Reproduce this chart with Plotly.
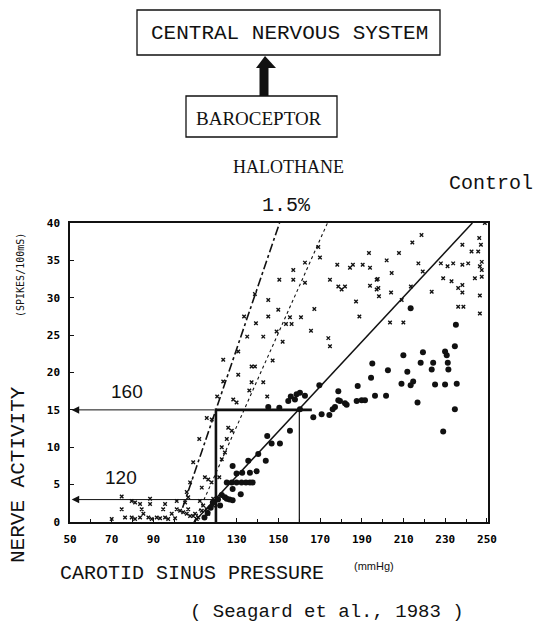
import plotly.graph_objects as go

# ---- data -------------------------------------------------------------
# Halothane 1.5 % : nerve activity vs carotid sinus pressure
halo_x = [193.4, 178.2, 184.3, 185.7, 190.4, 193.9, 174.7, 178.7, 180.3, 181.9, 193.9, 197.1, 197.1,
          187.2, 188.8, 173.9, 174.7, 169.9, 169.1, 162.7, 157.1, 150.4, 157.1, 162.7, 149.9, 167.2,
          155.5, 160.8, 153.6, 156.3, 149.1, 165.6, 152.0, 147.2,
          218.6, 214.2, 207.8, 201.9, 217.1, 204.3, 219.2, 197.6, 227.9, 231.1, 233.8, 238.2, 241.0,
          246.3, 249.0, 238.2, 242.6, 245.8, 247.1, 247.5, 246.6, 247.5, 244.2, 247.5, 229.0, 233.0,
          236.2, 238.2, 238.2, 223.5, 236.2, 238.7, 246.6, 246.6, 204.0, 197.9, 198.2, 213.5, 209.1,
          203.5, 209.9,
          138.7, 145.1, 145.1, 133.5, 139.2, 142.7, 135.0, 130.7, 123.5, 137.1, 138.7, 130.7,
          123.5, 137.1, 142.7, 136.0, 128.3, 129.9, 144.6, 125.9, 127.6, 125.2, 122.8, 124.3, 122.8,
          121.6, 118.0, 120.6, 112.0, 115.6,
          74.8, 74.8, 79.6, 81.2, 83.6, 84.4, 85.2, 88.4, 88.4, 76.4, 79.6, 81.2, 83.6, 87.6, 89.2,
          91.6, 93.2, 94.7, 95.6, 95.6, 97.1, 98.8, 100.4, 101.2, 101.2, 102.8, 104.3, 106.0, 106.7,
          105.2, 107.6, 109.1, 106.7, 106.0, 112.3, 113.9, 113.2, 111.5, 115.6, 116.3, 110.0, 110.8,
          113.2, 114.7, 116.3, 107.6, 109.1, 117.9, 118.7, 118.7, 70.0]
halo_y = [36.0, 34.4, 34.0, 34.4, 34.4, 34.0, 32.4, 31.5, 31.1, 31.5, 31.6, 31.1, 32.4,
          29.5, 27.5, 24.6, 23.5, 35.4, 36.8, 34.7, 33.7, 32.4, 32.4, 32.0, 28.4, 28.5,
          27.4, 27.4, 26.5, 26.5, 25.5, 25.6, 24.1, 21.6,
          38.4, 37.4, 36.0, 35.0, 34.6, 33.3, 33.5, 32.5, 34.6, 34.2, 34.6, 34.4, 34.6,
          38.0, 40.0, 37.1, 36.2, 36.2, 37.1, 34.8, 34.2, 33.7, 32.6, 32.8, 32.6, 32.2,
          31.3, 31.7, 30.7, 30.8, 28.8, 28.8, 27.9, 30.3, 30.7, 31.3, 30.2, 31.5, 29.7,
          26.7, 26.7,
          30.5, 29.7, 27.5, 27.5, 26.6, 24.8, 24.8, 22.8, 21.7, 20.8, 20.8, 19.7,
          18.8, 18.7, 18.7, 17.6, 16.4, 16.0, 16.8, 12.6, 12.2, 11.1, 10.0, 9.3, 8.4,
          6.0, 13.7, 16.8, 11.1, 13.9,
          3.4, 1.7, 2.8, 2.6, 2.4, 1.7, 1.1, 3.1, 2.4, 0.6, 0.6, 0.4, 0.6, 0.6, 0.4,
          0.6, 0.5, 1.7, 2.4, 0.6, 0.4, 1.1, 0.5, 2.8, 1.7, 1.5, 1.3, 1.1, 1.7,
          2.6, 0.8, 0.8, 3.3, 4.0, 2.8, 2.2, 1.5, 0.6, 1.7, 1.1, 1.1, 0.4,
          4.6, 6.0, 5.7, 5.3, 8.0, 5.3, 3.1, 2.2, 0.4]

# Control : nerve activity vs carotid sinus pressure
ctrl_x = [235.1, 213.4, 234.6, 209.9, 219.3, 229.9, 230.7, 231.2, 231.5, 195.0, 202.5, 218.2, 224.2,
          223.5, 211.8, 194.4, 209.0, 214.6, 213.4, 225.1, 229.9, 235.5, 188.0, 196.3, 201.6, 187.5,
          189.9, 191.5, 182.7, 179.5, 216.7, 234.6, 229.0,
          169.6, 178.7, 178.7, 181.9, 155.9, 158.7, 160.3, 157.9, 162.7, 154.7, 145.1, 150.4, 160.3,
          166.7, 170.7, 174.4, 176.0, 177.1, 155.5, 144.6, 146.7, 150.7, 140.3, 143.9, 135.5, 128.0,
          132.6, 136.3, 139.5, 129.9, 125.2, 127.6, 129.9, 132.3, 134.4, 136.3, 137.6, 128.0, 131.9,
          122.8, 124.3, 125.2, 114.5, 116.0, 117.5, 118.5, 121.0, 122.0, 126.5, 128.0]
ctrl_y = [26.4, 28.6, 23.5, 22.3, 22.7, 22.8, 22.3, 21.3, 20.4, 21.2, 20.3, 21.3, 21.3,
          20.4, 20.1, 19.3, 18.5, 18.8, 18.3, 18.4, 18.4, 18.5, 18.2, 16.9, 16.9, 16.2,
          16.3, 16.3, 15.7, 16.2, 16.0, 15.1, 12.1,
          18.3, 17.5, 16.3, 15.9, 16.8, 17.1, 17.3, 16.4, 16.9, 16.2, 15.4, 15.3, 15.1,
          14.0, 14.4, 14.3, 15.1, 15.4, 12.2, 11.5, 10.5, 10.5, 9.1, 8.2, 8.2, 7.5,
          6.6, 6.6, 6.8, 6.5, 5.3, 5.3, 5.3, 5.3, 5.3, 5.3, 5.3, 4.4, 3.7,
          3.6, 3.3, 3.1, 0.6, 1.2, 1.9, 2.6, 3.0, 2.2, 3.0, 2.9]

# fitted response lines (pressure, activity)
halo15_line_x = [104.0, 150.5]
halo15_line_y = [1.9, 40.0]
halo_low_line_x = [109.5, 173.5]
halo_low_line_y = [0.0, 40.0]
ctrl_line_x = [109.5, 243.0]
ctrl_line_y = [0.0, 40.0]

# threshold / set-point markers
thresh_press = [120, 120, 166]
thresh_act = [0, 15, 15]
ctrl_press = [160, 160]
ctrl_act = [0, 15]
arrow_levels = [15, 3]
arrow_labels = ["160", "120"]

x_ticks = list(range(50, 251, 20))
y_ticks = list(range(0, 41, 5))

# ---- figure geometry -------------------------------------------------------
W, H = 535, 625
ML, MR, MT, MB = 70, 47, 223, 103
PW, PH = W - ML - MR, H - MT - MB


def px(x):
    return (x - ML) / PW


def py(y):
    return (H - MB - y) / PH


INK = "#111111"
MONO = "Liberation Mono"
SERIF = "Liberation Serif"
SANS = "Liberation Sans"
DOT = "DejaVu Sans Mono"

fig = go.Figure()

# response lines
fig.add_trace(go.Scatter(x=halo15_line_x, y=halo15_line_y, mode="lines",
                         line=dict(color=INK, width=1.6, dash="dashdot")))
fig.add_trace(go.Scatter(x=halo_low_line_x, y=halo_low_line_y, mode="lines",
                         line=dict(color=INK, width=1.1, dash="dot")))
fig.add_trace(go.Scatter(x=ctrl_line_x, y=ctrl_line_y, mode="lines",
                         line=dict(color=INK, width=1.5)))

# threshold step (thick) and control set-point (thin)
fig.add_trace(go.Scatter(x=thresh_press, y=thresh_act, mode="lines",
                         line=dict(color=INK, width=2.6)))
fig.add_trace(go.Scatter(x=ctrl_press, y=ctrl_act, mode="lines",
                         line=dict(color=INK, width=1.2)))

# data points
fig.add_trace(go.Scatter(x=halo_x, y=halo_y, mode="markers",
                         marker=dict(symbol="x-thin", size=3.5, color=INK,
                                     line=dict(color=INK, width=1.4))))
fig.add_trace(go.Scatter(x=ctrl_x, y=ctrl_y, mode="markers",
                         marker=dict(symbol="circle", size=6, color=INK)))

# arrows back to the activity axis
for lvl in arrow_levels:
    fig.add_annotation(x=50.8, y=lvl, ax=thresh_press[0], ay=lvl, axref="x", ayref="y",
                       xref="x", yref="y", text="", showarrow=True,
                       arrowhead=2, arrowsize=1.5, arrowwidth=1, arrowcolor=INK)

# labels of the arrows
fig.add_annotation(x=77.5, y=17.4, text=arrow_labels[0], showarrow=False,
                   font=dict(family=SANS, size=19, color=INK))
fig.add_annotation(x=74.5, y=6.0, text=arrow_labels[1], showarrow=False,
                   font=dict(family=SANS, size=19, color=INK))

# block diagram above the chart
shapes = [
    dict(type="rect", xref="paper", yref="paper", x0=px(137), x1=px(440), y0=py(10), y1=py(55),
         line=dict(color=INK, width=1.3)),
    dict(type="rect", xref="paper", yref="paper", x0=px(186), x1=px(337), y0=py(96), y1=py(137),
         line=dict(color=INK, width=1.3)),
    dict(type="rect", xref="paper", yref="paper", x0=px(259.5), x1=px(268.5), y0=py(96), y1=py(67),
         line=dict(width=0), fillcolor=INK),
    dict(type="path", xref="paper", yref="paper",
         path=f"M {px(256)} {py(68)} L {px(265)} {py(56)} L {px(276)} {py(68)} Z",
         line=dict(width=0), fillcolor=INK),
]

texts = [
    ("CENTRAL NERVOUS SYSTEM", 289, 33, MONO, 21, 0),
    ("BAROCEPTOR", 259, 118, SERIF, 19, 0),
    ("HALOTHANE", 288, 167, SERIF, 18, 0),
    ("1.5%", 286, 205, MONO, 20, 0),
    ("Control", 491, 183, MONO, 20, 0),
    ("NERVE ACTIVITY", 18, 475, MONO, 21, -90),
    ("(SPIKES/100mS)", 20, 275, DOT, 10, -90),
    ("CAROTID SINUS PRESSURE", 192, 573, MONO, 20, 0),
    ("(mmHg)", 374, 566, SANS, 11, 0),
    ("( Seagard et al., 1983 )", 327, 612, MONO, 19, 0),
]
for t, x, y, fam, sz, ang in texts:
    fig.add_annotation(x=px(x), y=py(y), xref="paper", yref="paper", text=t, showarrow=False,
                       textangle=ang, xanchor="center", yanchor="middle",
                       font=dict(family=fam, size=sz, color=INK))

axis_common = dict(showgrid=False, zeroline=False, showline=True, mirror=True,
                   linecolor=INK, linewidth=1.5, ticks="inside", ticklen=4,
                   tickcolor=INK, tickwidth=1.2,
                   tickfont=dict(family=DOT, size=11, color="#000000", weight=600))

fig.update_layout(
    width=W, height=H,
    margin=dict(l=ML, r=MR, t=MT, b=MB, pad=0),
    paper_bgcolor="white", plot_bgcolor="white",
    showlegend=False,
    shapes=shapes,
    xaxis=dict(range=[50, 250.5], tickvals=x_ticks, ticklabelstandoff=6,
               minor=dict(dtick=10, ticks="inside", ticklen=3, tickcolor=INK),
               **axis_common),
    yaxis=dict(range=[0, 40], tickvals=y_ticks, ticklabelstandoff=6, **axis_common),
)

fig.write_html("out.html")
